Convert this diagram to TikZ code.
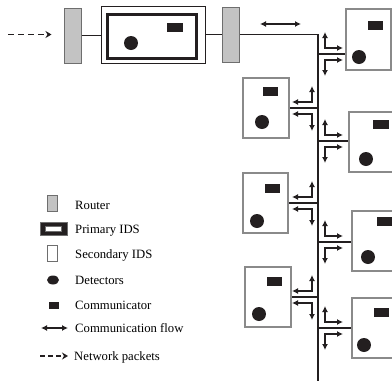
\documentclass[tikz,border=0pt]{standalone}
\usepackage{fontspec}
\setmainfont{Liberation Serif}
\usetikzlibrary{arrows.meta,shapes.geometric}
\definecolor{ink}{HTML}{231F20}
\definecolor{routerfill}{HTML}{C3C3C3}
\definecolor{routeredge}{HTML}{6E6E6E}
\definecolor{boxedge}{HTML}{8A8A8A}
\tikzset{
  router/.style={draw=routeredge, fill=routerfill, line width=1pt, minimum width=17pt, minimum height=55pt, inner sep=0pt},
  sbox/.style={draw=boxedge, fill=white, line width=1.1pt, minimum width=45pt, minimum height=60pt, inner sep=0pt},
  det/.style={circle, fill=ink, minimum size=14pt, inner sep=0pt},
  comm/.style={fill=ink, minimum width=15pt, minimum height=9pt, inner sep=0pt},
  link/.style={line width=1.1pt, draw=ink},
  flow/.style={line width=1.4pt, draw=ink, {Latex[length=6pt,width=6pt]}-{Latex[length=6pt,width=6pt]}},
  packet/.style={line width=1.8pt, draw=ink, dash pattern=on 6pt off 4pt, -{Stealth[length=6pt,width=7pt]}},
  lbl/.style={anchor=base west, font=\fontsize{12.7}{15}\selectfont, inner sep=0pt},
  flowright/.pic={
    \draw[flow] (7,-22) -- (7,-6) -- (25,-6);
    \draw[flow] (25,6) -- (7,6) -- (7,22);
  },
  flowleft/.pic={
    \draw[flow] (-26,-6) -- (-6,-6) -- (-6,-22);
    \draw[flow] (-26,6) -- (-6,6) -- (-6,23);
  },
}
\begin{document}
\begin{tikzpicture}[x=1pt,y=-1pt]
\useasboundingbox (0,0) rectangle (392,381);

% top chain
\node[router] (rt1) at (72.5,35.5) {};
\node[draw=ink, line width=0.9pt, minimum width=104pt, minimum height=57pt, inner sep=0pt] (pids) at (153,34.5) {};
\node[draw=ink, line width=3pt, minimum width=89pt, minimum height=44pt, inner sep=0pt] (pidsin) at (152,36.5) {};
\node[comm, minimum width=16pt] (pcomm) at (175,27.5) {};
\node[det] (pdet) at (131,43) {};
\node[router] (rt2) at (231,34.5) {};

\coordinate (pktsrc) at (8,34.5);
\draw[packet, shorten >=12pt] (pktsrc) -- (pktsrc -| rt1.west);
\draw[link] (rt1.east) -- (rt1.east -| pids.west);
\draw[link] (pids.east) -- (pids.east -| rt2.west);

\coordinate (bustop) at (318,34.5);
\coordinate (busend) at (318,381);
\draw[link] (rt2.east) -- (bustop) -- (busend);

\coordinate (fa) at (260,24);
\coordinate (fb) at (301,24);
\draw[flow] (fa) -- (fb);

% secondary IDS boxes
\node[sbox, minimum height=61pt] (s1) at (368.5,39.5) {};
\node[comm] (c1) at (375.5,25) {};
\node[det] (d1) at (359,57) {};

\node[sbox, minimum width=46pt] (s2) at (266,108) {};
\node[comm] (c2) at (270.5,91) {};
\node[det] (d2) at (262,122) {};

\node[sbox] (s3) at (371.5,142) {};
\node[comm, minimum width=16pt] (c3) at (381,124) {};
\node[det] (d3) at (366,159) {};

\node[sbox] (s4) at (265.5,203) {};
\node[comm] (c4) at (272.5,188) {};
\node[det] (d4) at (257,221) {};

\node[sbox] (s5) at (374.5,241) {};
\node[comm] (c5) at (384.5,221.5) {};
\node[det] (d5) at (368,257) {};

\node[sbox, minimum width=46pt] (s6) at (268,297) {};
\node[comm] (c6) at (274.5,281.5) {};
\node[det] (d6) at (259,314) {};

\node[sbox] (s7) at (374.5,328) {};
\node[comm] (c7) at (381.5,312.5) {};
\node[det] (d7) at (364,345) {};

% junctions
\coordinate (j1) at (318,54);
\coordinate (j2) at (318,108);
\coordinate (j3) at (318,141);
\coordinate (j4) at (318,203);
\coordinate (j5) at (318,242);
\coordinate (j6) at (318,297);
\coordinate (j7) at (318,328);
\draw[link] (j1) -- (j1 -| s1.west);
\draw[link] (j2) -- (j2 -| s2.east);
\draw[link] (j3) -- (j3 -| s3.west);
\draw[link] (j4) -- (j4 -| s4.east);
\draw[link] (j5) -- (j5 -| s5.west);
\draw[link] (j6) -- (j6 -| s6.east);
\draw[link] (j7) -- (j7 -| s7.west);

\pic at (j1) {flowright};
\pic at (j3) {flowright};
\pic at (j5) {flowright};
\pic at (j7) {flowright};
\pic at (j2) {flowleft};
\pic at (j4) {flowleft};
\pic at (j6) {flowleft};

% legend
\node[router, minimum width=10pt, minimum height=16pt] (lgrouter) at (52,203.5) {};
\node[lbl] (tRouter) at (75,209) {Router};

\node[draw=routeredge, fill=ink, line width=0.8pt, minimum width=27pt, minimum height=13pt, inner sep=0pt] (lgpids) at (53.5,228.5) {};
\node[draw=routeredge, fill=white, line width=0.5pt, minimum width=16pt, minimum height=5pt, inner sep=0pt] (lgpidsin) at (lgpids) {};
\node[lbl] (tPrimary) at (75,233) {Primary IDS};

\node[draw=routeredge, fill=white, line width=0.8pt, minimum width=10pt, minimum height=16pt, inner sep=0pt] (lgsids) at (52,253) {};
\node[lbl] (tSecondary) at (75,258) {Secondary IDS};

\node[ellipse, fill=ink, minimum width=12pt, minimum height=9pt, inner sep=0pt] (lgdet) at (53,280) {};
\node[lbl] (tDet) at (75,284) {Detectors};

\node[comm, minimum width=10pt, minimum height=7pt] (lgcomm) at (54,305) {};
\node[lbl] (tComm) at (75,309) {Communicator};

\coordinate (lgfa) at (41,328);
\coordinate (lgfb) at (68,328);
\draw[flow] (lgfa) -- (lgfb);
\node[lbl] (tFlow) at (75,332) {Communication flow};

\coordinate (lgpa) at (40,356);
\coordinate (lgpb) at (68,356);
\draw[packet, dash pattern=on 5pt off 3pt] (lgpa) -- (lgpb);
\node[lbl] (tPkt) at (74,360) {Network packets};
\end{tikzpicture}
\end{document}
